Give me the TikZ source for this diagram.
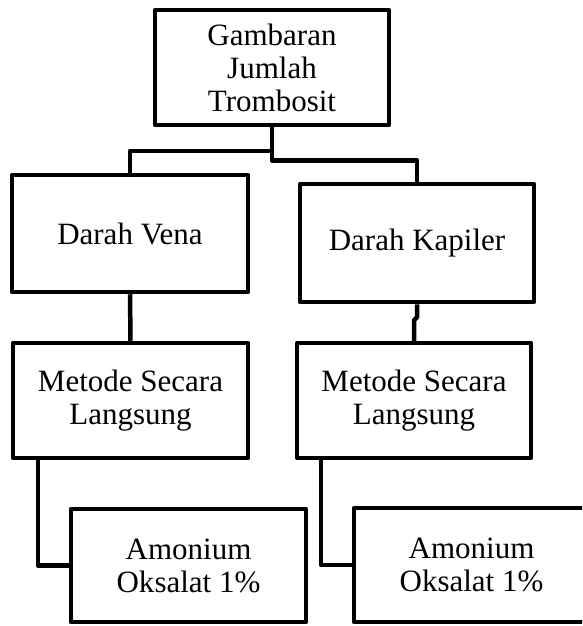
\documentclass[tikz,border=0pt]{standalone}
\usepackage{fontspec}
\setmainfont{Liberation Serif}
\begin{document}
\begin{tikzpicture}[x=1pt,y=-1pt,
  box/.style={draw,line width=4.5pt,line join=round,rectangle,inner sep=0pt,align=center,
    font=\fontsize{31}{33}\selectfont,minimum width=#1},
  box/.default=235pt,
  conn/.style={line width=4.5pt,line join=round}]
\useasboundingbox (0,0) rectangle (582,626);
\clip (0,0) rectangle (582,626);
\node[box=234pt,minimum height=115pt] (top) at (272,67.5) {Gambaran\\Jumlah\\Trombosit};
\node[box=236pt,minimum height=117pt] (vena) at (130,233.5) {Darah Vena};
\node[box=234pt,minimum height=118pt] (kap) at (417,243) {Darah Kapiler};
\node[box=235pt,minimum height=115pt] (metL) at (130.5,400.5) {Metode Secara\\Langsung};
\node[box=234pt,minimum height=115pt] (metR) at (414,400.5) {Metode Secara\\Langsung};
\node[box=235pt,minimum height=113pt] (amL) at (188.5,565.5) {Amonium\\Oksalat 1\%};
\node[box=235pt,minimum height=114pt] (amR) at (471.5,565) {Amonium\\Oksalat 1\%};
\coordinate (jL) at (272,151);
\draw[conn] (top.south) -- ++(0,33) -| (kap.north);
\draw[conn] (jL) -| (vena.north);
\draw[conn] (vena.south) -- (metL.north);
\draw[conn] (kap.south) -- ++(0,13) -- ++(-3,3) -- (metR.north);
\draw[conn] ([xshift=-92.5pt]metL.south) |- (amL.west);
\draw[conn] ([xshift=-93pt]metR.south) |- (amR.west);
\end{tikzpicture}
\end{document}
